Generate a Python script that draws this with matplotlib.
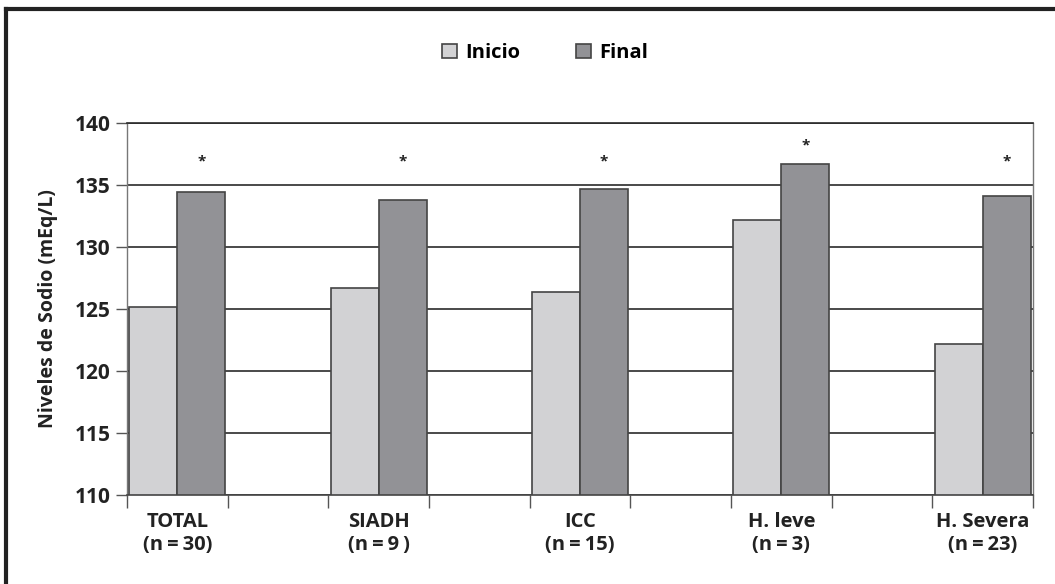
import matplotlib
matplotlib.use("Agg")
import matplotlib.pyplot as plt
from matplotlib.lines import Line2D
from matplotlib.patches import Patch
import numpy as np

categories = ["TOTAL\n(n\u2009=\u200930)", "SIADH\n(n\u2009=\u20099\u2009)", "ICC\n(n\u2009=\u200915)",
              "H. leve\n(n\u2009=\u20093)", "H. Severa\n(n\u2009=\u200923)"]
inicio = [125.2, 126.7, 126.4, 132.2, 122.2]
final = [134.4, 133.8, 134.7, 136.7, 134.1]
star_y = [136.9, 136.9, 136.9, 138.2, 136.9]
series_names = ["Inicio", "Final"]
yticks = [110, 115, 120, 125, 130, 135, 140]

plt.rcParams['font.family'] = ['Open Sans', 'DejaVu Sans']
plt.rcParams['font.weight'] = 'bold'

fig = plt.figure(figsize=(10.55, 5.84), dpi=100)
ax = fig.add_axes([127/1055, 1-495/584, (1033-127)/1055, (495-123)/584])

c_ini = "#d2d2d4"
c_fin = "#929296"
edge = "#444444"
txt = "#222222"

x = np.arange(len(categories)) * 2.0
w = 0.478
ax.bar(x - w/2, [v - 110 for v in inicio], w, bottom=110, color=c_ini, edgecolor=edge, linewidth=1.2, zorder=3)
ax.bar(x + w/2, [v - 110 for v in final], w, bottom=110, color=c_fin, edgecolor=edge, linewidth=1.2, zorder=3)

for xi, sy in zip(x, star_y):
    ax.text(xi + w/2, sy, "*", ha="center", va="center", fontsize=11, color=txt, zorder=4)

ax.set_xlim(-0.5, 8.5)
ax.set_ylim(110, 140)
ax.set_yticks(yticks)
ax.set_yticklabels([str(t) for t in yticks], fontsize=15, fontweight='bold', color=txt)
ax.yaxis.grid(True, color="#2a2a2a", linewidth=1.2, zorder=0)
ax.set_axisbelow(True)
ax.tick_params(axis='y', length=8, width=1, color="#555555", pad=4)

# boundary ticks
ax.set_xticks(np.arange(-0.5, 8.6, 1.0))
ax.set_xticklabels([])
ax.tick_params(axis='x', which='major', length=9, width=1, color="#555555")
ax.set_xticks(x, minor=True)
ax.set_xticklabels(categories, minor=True, fontsize=14.5, fontweight='bold', color=txt, linespacing=1.2)
ax.tick_params(axis='x', which='minor', length=0, pad=12)

for s in ["left", "right"]:
    ax.spines[s].set_color("#777777")
    ax.spines[s].set_linewidth(1.0)
ax.spines["bottom"].set_color("#444444")
ax.spines["bottom"].set_linewidth(1.2)
ax.spines["top"].set_color("#2a2a2a")
ax.spines["top"].set_linewidth(1.2)

ax.set_ylabel("Niveles de Sodio (mEq/L)", fontsize=14, fontweight='bold', color=txt, labelpad=12)

handles = [Patch(facecolor=c_ini, edgecolor=edge, linewidth=1.2),
           Patch(facecolor=c_fin, edgecolor=edge, linewidth=1.2)]
fig.legend(handles, series_names, loc="center", bbox_to_anchor=(545/1055, 1-53/584), ncol=2,
           frameon=False, handlelength=0.75, handleheight=0.75, handletextpad=0.4,
           columnspacing=2.8, prop={'weight': 'bold', 'size': 14.5})

# outer frame (top and left)
fig.add_artist(Line2D([6/1055, 1.0], [1-9/584, 1-9/584], color="#222222", linewidth=3, transform=fig.transFigure))
fig.add_artist(Line2D([6/1055, 6/1055], [0.0, 1-9/584], color="#222222", linewidth=3, transform=fig.transFigure))

fig.savefig("out.png", dpi=100)
